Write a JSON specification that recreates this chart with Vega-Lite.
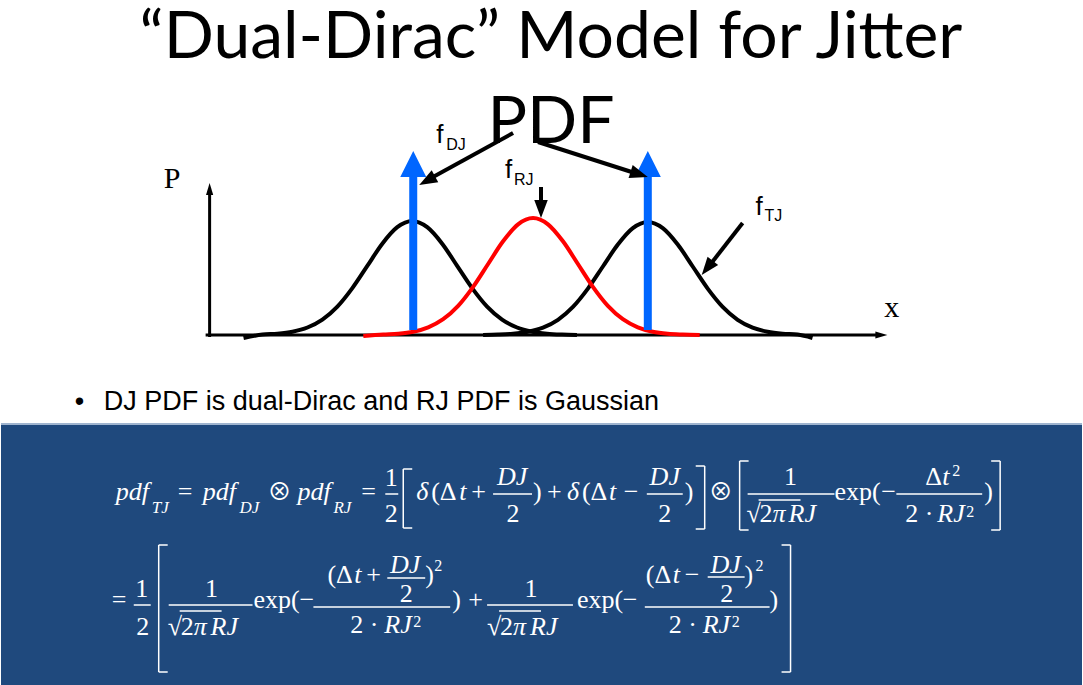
{
  "$schema": "https://vega.github.io/schema/vega-lite/v6.json",
  "width": 1083,
  "height": 685,
  "autosize": {"type": "fit", "contains": "padding"},
  "padding": 0,
  "background": "white",
  "config": {"view": {"stroke": null}},
  "datasets": {
    "box": [{"x": 0, "x2": 1083, "y": 425, "y2": 685}],
    "segs": [
      {"x": 0, "y": 424, "x2": 1083, "y2": 424, "g": "edge"},
      {"x": 209, "y": 337, "x2": 209, "y2": 193, "g": "axis"},
      {"x": 205, "y": 335, "x2": 877, "y2": 335, "g": "axis"},
      {"x": 413, "y": 330, "x2": 413, "y2": 176, "g": "blue"},
      {"x": 648, "y": 330, "x2": 648, "y2": 176, "g": "blue"},
      {"x": 513, "y": 133, "x2": 431, "y2": 178, "g": "ptr"},
      {"x": 538, "y": 142, "x2": 635, "y2": 173, "g": "ptr"},
      {"x": 541, "y": 187, "x2": 541, "y2": 206, "g": "ptr"},
      {"x": 743, "y": 223, "x2": 711, "y2": 264, "g": "ptr"},
      {"x": 385, "y": 494, "x2": 398, "y2": 494, "g": "math"},
      {"x": 493, "y": 494, "x2": 532, "y2": 494, "g": "math"},
      {"x": 647, "y": 494, "x2": 683, "y2": 494, "g": "math"},
      {"x": 748, "y": 494, "x2": 835, "y2": 494, "g": "math"},
      {"x": 897, "y": 494, "x2": 983, "y2": 494, "g": "math"},
      {"x": 759, "y": 500, "x2": 801, "y2": 500, "g": "math"},
      {"x": 403, "y": 469, "x2": 403, "y2": 528, "g": "math"},
      {"x": 403, "y": 469, "x2": 412, "y2": 469, "g": "math"},
      {"x": 403, "y": 528, "x2": 412, "y2": 528, "g": "math"},
      {"x": 705, "y": 466, "x2": 705, "y2": 529, "g": "math"},
      {"x": 696, "y": 466, "x2": 705, "y2": 466, "g": "math"},
      {"x": 696, "y": 529, "x2": 705, "y2": 529, "g": "math"},
      {"x": 740, "y": 461, "x2": 740, "y2": 530, "g": "math"},
      {"x": 740, "y": 461, "x2": 749, "y2": 461, "g": "math"},
      {"x": 740, "y": 530, "x2": 749, "y2": 530, "g": "math"},
      {"x": 1001, "y": 461, "x2": 1001, "y2": 530, "g": "math"},
      {"x": 992, "y": 461, "x2": 1001, "y2": 461, "g": "math"},
      {"x": 992, "y": 530, "x2": 1001, "y2": 530, "g": "math"},
      {"x": 133, "y": 605, "x2": 150, "y2": 605, "g": "math"},
      {"x": 168, "y": 605, "x2": 252, "y2": 605, "g": "math"},
      {"x": 313, "y": 607, "x2": 450, "y2": 607, "g": "math"},
      {"x": 387, "y": 578, "x2": 425, "y2": 578, "g": "math"},
      {"x": 487, "y": 605, "x2": 573, "y2": 605, "g": "math"},
      {"x": 645, "y": 607, "x2": 770, "y2": 607, "g": "math"},
      {"x": 708, "y": 577, "x2": 745, "y2": 577, "g": "math"},
      {"x": 179, "y": 611, "x2": 221, "y2": 611, "g": "math"},
      {"x": 499, "y": 611, "x2": 541, "y2": 611, "g": "math"},
      {"x": 158, "y": 545, "x2": 158, "y2": 672, "g": "math"},
      {"x": 158, "y": 545, "x2": 167, "y2": 545, "g": "math"},
      {"x": 158, "y": 672, "x2": 167, "y2": 672, "g": "math"},
      {"x": 791, "y": 545, "x2": 791, "y2": 672, "g": "math"},
      {"x": 782, "y": 545, "x2": 791, "y2": 545, "g": "math"},
      {"x": 782, "y": 672, "x2": 791, "y2": 672, "g": "math"}
    ],
    "heads": [
      {"x": 209, "y": 183, "dir": 0, "k": "axis"},
      {"x": 888, "y": 335, "dir": 90, "k": "axis"},
      {"x": 413, "y": 151, "dir": 0, "k": "blue"},
      {"x": 648, "y": 151, "dir": 0, "k": "blue"},
      {"x": 419, "y": 185, "dir": 241, "k": "ptr"},
      {"x": 648, "y": 177, "dir": 107.6, "k": "ptr"},
      {"x": 541, "y": 218, "dir": 180, "k": "ptr"},
      {"x": 702, "y": 275, "dir": 218.3, "k": "ptr"}
    ],
    "curves": [
      {"x": 243, "y": 338, "c": "tj1"}, {"x": 262, "y": 334.6, "c": "tj1"}, {"x": 277, "y": 333.7, "c": "tj1"},
      {"x": 292, "y": 331.7, "c": "tj1"}, {"x": 307, "y": 327.5, "c": "tj1"}, {"x": 322, "y": 319.6, "c": "tj1"},
      {"x": 337, "y": 306.6, "c": "tj1"}, {"x": 352, "y": 288.1, "c": "tj1"}, {"x": 367, "y": 265.9, "c": "tj1"},
      {"x": 382, "y": 243.7, "c": "tj1"}, {"x": 397, "y": 227.2, "c": "tj1"}, {"x": 412, "y": 221, "c": "tj1"},
      {"x": 427, "y": 227.2, "c": "tj1"}, {"x": 442, "y": 243.7, "c": "tj1"}, {"x": 457, "y": 265.9, "c": "tj1"},
      {"x": 472, "y": 288.1, "c": "tj1"}, {"x": 487, "y": 306.6, "c": "tj1"}, {"x": 502, "y": 319.6, "c": "tj1"},
      {"x": 517, "y": 327.5, "c": "tj1"}, {"x": 532, "y": 331.7, "c": "tj1"}, {"x": 547, "y": 333.7, "c": "tj1"},
      {"x": 562, "y": 334.6, "c": "tj1"}, {"x": 577, "y": 335, "c": "tj1"},
      {"x": 483, "y": 335, "c": "tj2"}, {"x": 498, "y": 334.6, "c": "tj2"}, {"x": 513, "y": 333.7, "c": "tj2"},
      {"x": 528, "y": 331.7, "c": "tj2"}, {"x": 543, "y": 327.6, "c": "tj2"}, {"x": 558, "y": 319.8, "c": "tj2"},
      {"x": 573, "y": 306.9, "c": "tj2"}, {"x": 588, "y": 288.6, "c": "tj2"}, {"x": 603, "y": 266.5, "c": "tj2"},
      {"x": 618, "y": 244.5, "c": "tj2"}, {"x": 633, "y": 228.1, "c": "tj2"}, {"x": 648, "y": 222, "c": "tj2"},
      {"x": 663, "y": 228.1, "c": "tj2"}, {"x": 678, "y": 244.5, "c": "tj2"}, {"x": 693, "y": 266.5, "c": "tj2"},
      {"x": 708, "y": 288.6, "c": "tj2"}, {"x": 723, "y": 306.9, "c": "tj2"}, {"x": 738, "y": 319.8, "c": "tj2"},
      {"x": 753, "y": 327.6, "c": "tj2"}, {"x": 768, "y": 331.7, "c": "tj2"}, {"x": 783, "y": 333.7, "c": "tj2"},
      {"x": 798, "y": 334.6, "c": "tj2"}, {"x": 813, "y": 338, "c": "tj2"},
      {"x": 363, "y": 336, "c": "rj"}, {"x": 383, "y": 334.5, "c": "rj"}, {"x": 398, "y": 333.7, "c": "rj"},
      {"x": 413, "y": 331.7, "c": "rj"}, {"x": 428, "y": 327.3, "c": "rj"}, {"x": 443, "y": 319.2, "c": "rj"},
      {"x": 458, "y": 305.9, "c": "rj"}, {"x": 473, "y": 286.9, "c": "rj"}, {"x": 488, "y": 264, "c": "rj"},
      {"x": 503, "y": 241.3, "c": "rj"}, {"x": 518, "y": 224.3, "c": "rj"}, {"x": 533, "y": 218, "c": "rj"},
      {"x": 548, "y": 224.3, "c": "rj"}, {"x": 563, "y": 241.3, "c": "rj"}, {"x": 578, "y": 264, "c": "rj"},
      {"x": 593, "y": 286.9, "c": "rj"}, {"x": 608, "y": 305.9, "c": "rj"}, {"x": 623, "y": 319.2, "c": "rj"},
      {"x": 638, "y": 327.3, "c": "rj"}, {"x": 653, "y": 331.7, "c": "rj"}, {"x": 668, "y": 333.7, "c": "rj"},
      {"x": 683, "y": 334.5, "c": "rj"}, {"x": 700, "y": 335, "c": "rj"}
    ],
    "labels": [
      {"x": 551, "y": 58, "t": "“Dual-Dirac” Model for Jitter", "r": "title"},
      {"x": 551, "y": 143, "t": "PDF", "r": "title"},
      {"x": 74, "y": 410, "t": "•", "r": "bul"},
      {"x": 103, "y": 410, "t": "DJ PDF is dual-Dirac and RJ PDF is Gaussian", "r": "bul"},
      {"x": 163, "y": 188, "t": "P", "r": "ax"},
      {"x": 885, "y": 317, "t": "x", "r": "ax"},
      {"x": 436, "y": 143, "t": "f", "r": "lf"},
      {"x": 446, "y": 150, "t": "DJ", "r": "ls"},
      {"x": 505, "y": 178, "t": "f", "r": "lf"},
      {"x": 514, "y": 185, "t": "RJ", "r": "ls"},
      {"x": 756, "y": 215, "t": "f", "r": "lf"},
      {"x": 765, "y": 221, "t": "TJ", "r": "ls"},

      {"x": 115, "y": 500, "t": "pdf", "r": "mi"},
      {"x": 151, "y": 513, "t": "TJ", "r": "si"},
      {"x": 177, "y": 500, "t": "=", "r": "mr"},
      {"x": 202, "y": 500, "t": "pdf", "r": "mi"},
      {"x": 239, "y": 513, "t": "DJ", "r": "si"},
      {"x": 267, "y": 500, "t": "⊗", "r": "op"},
      {"x": 297, "y": 500, "t": "pdf", "r": "mi"},
      {"x": 333, "y": 513, "t": "RJ", "r": "si"},
      {"x": 361, "y": 500, "t": "=", "r": "mr"},
      {"x": 391, "y": 486, "t": "1", "r": "mrc"},
      {"x": 391, "y": 522, "t": "2", "r": "mrc"},
      {"x": 416, "y": 500, "t": "δ", "r": "mi"},
      {"x": 431, "y": 500, "t": "(Δ", "r": "mr"},
      {"x": 459, "y": 500, "t": "t", "r": "mi"},
      {"x": 471, "y": 500, "t": "+", "r": "mr"},
      {"x": 512, "y": 485, "t": "DJ", "r": "mic"},
      {"x": 513, "y": 522, "t": "2", "r": "mrc"},
      {"x": 533, "y": 500, "t": ")", "r": "mr"},
      {"x": 547, "y": 500, "t": "+", "r": "mr"},
      {"x": 567, "y": 500, "t": "δ", "r": "mi"},
      {"x": 582, "y": 500, "t": "(Δ", "r": "mr"},
      {"x": 609, "y": 500, "t": "t", "r": "mi"},
      {"x": 624, "y": 500, "t": "−", "r": "mr"},
      {"x": 665, "y": 485, "t": "DJ", "r": "mic"},
      {"x": 665, "y": 522, "t": "2", "r": "mrc"},
      {"x": 685, "y": 500, "t": ")", "r": "mr"},
      {"x": 709, "y": 500, "t": "⊗", "r": "op"},
      {"x": 791, "y": 485, "t": "1", "r": "mrc"},
      {"x": 747, "y": 522, "t": "√", "r": "mr"},
      {"x": 760, "y": 522, "t": "2", "r": "mr"},
      {"x": 773, "y": 522, "t": "π", "r": "mi"},
      {"x": 789, "y": 522, "t": "RJ", "r": "mi"},
      {"x": 835, "y": 500, "t": "exp(", "r": "mr"},
      {"x": 882, "y": 500, "t": "−", "r": "mr"},
      {"x": 926, "y": 485, "t": "Δ", "r": "mr"},
      {"x": 943, "y": 485, "t": "t", "r": "mi"},
      {"x": 953, "y": 476, "t": "2", "r": "sr"},
      {"x": 906, "y": 522, "t": "2 ·", "r": "mr"},
      {"x": 938, "y": 522, "t": "RJ", "r": "mi"},
      {"x": 967, "y": 517, "t": "2", "r": "sr"},
      {"x": 985, "y": 500, "t": ")", "r": "mr"},

      {"x": 111, "y": 608, "t": "=", "r": "mr"},
      {"x": 141, "y": 597, "t": "1", "r": "mrc"},
      {"x": 142, "y": 635, "t": "2", "r": "mrc"},
      {"x": 211, "y": 597, "t": "1", "r": "mrc"},
      {"x": 167, "y": 635, "t": "√", "r": "mr"},
      {"x": 180, "y": 635, "t": "2", "r": "mr"},
      {"x": 193, "y": 635, "t": "π", "r": "mi"},
      {"x": 210, "y": 635, "t": "RJ", "r": "mi"},
      {"x": 253, "y": 608, "t": "exp(", "r": "mr"},
      {"x": 299, "y": 608, "t": "−", "r": "mr"},
      {"x": 327, "y": 583, "t": "(Δ", "r": "mr"},
      {"x": 354, "y": 583, "t": "t", "r": "mi"},
      {"x": 366, "y": 583, "t": "+", "r": "mr"},
      {"x": 405, "y": 573, "t": "DJ", "r": "mic"},
      {"x": 406, "y": 602, "t": "2", "r": "mrc"},
      {"x": 425, "y": 583, "t": ")", "r": "mr"},
      {"x": 434, "y": 571, "t": "2", "r": "sr"},
      {"x": 350, "y": 633, "t": "2 ·", "r": "mr"},
      {"x": 384, "y": 633, "t": "RJ", "r": "mi"},
      {"x": 413, "y": 627, "t": "2", "r": "sr"},
      {"x": 452, "y": 608, "t": ")", "r": "mr"},
      {"x": 468, "y": 608, "t": "+", "r": "mr"},
      {"x": 531, "y": 597, "t": "1", "r": "mrc"},
      {"x": 487, "y": 635, "t": "√", "r": "mr"},
      {"x": 500, "y": 635, "t": "2", "r": "mr"},
      {"x": 513, "y": 635, "t": "π", "r": "mi"},
      {"x": 530, "y": 635, "t": "RJ", "r": "mi"},
      {"x": 577, "y": 608, "t": "exp(", "r": "mr"},
      {"x": 623, "y": 608, "t": "−", "r": "mr"},
      {"x": 646, "y": 583, "t": "(Δ", "r": "mr"},
      {"x": 673, "y": 583, "t": "t", "r": "mi"},
      {"x": 685, "y": 583, "t": "−", "r": "mr"},
      {"x": 726, "y": 573, "t": "DJ", "r": "mic"},
      {"x": 727, "y": 602, "t": "2", "r": "mrc"},
      {"x": 745, "y": 583, "t": ")", "r": "mr"},
      {"x": 756, "y": 571, "t": "2", "r": "sr"},
      {"x": 669, "y": 633, "t": "2 ·", "r": "mr"},
      {"x": 703, "y": 633, "t": "RJ", "r": "mi"},
      {"x": 732, "y": 627, "t": "2", "r": "sr"},
      {"x": 770, "y": 608, "t": ")", "r": "mr"}
    ]
  },
  "encoding": {
    "x": {"field": "x", "type": "quantitative", "scale": {"domain": [0, 1083], "nice": false, "zero": false}, "axis": null},
    "y": {"field": "y", "type": "quantitative", "scale": {"domain": [0, 685], "nice": false, "zero": false, "reverse": true}, "axis": null}
  },
  "layer": [
    {
      "data": {"name": "box"},
      "mark": {"type": "rect", "color": "#1F497D"},
      "encoding": {"x2": {"field": "x2"}, "y2": {"field": "y2"}}
    },
    {
      "data": {"name": "segs"},
      "transform": [{"filter": "datum.g === 'edge'"}],
      "mark": {"type": "rule", "color": "#9FB4CF", "strokeWidth": 2},
      "encoding": {"x2": {"field": "x2"}, "y2": {"field": "y2"}}
    },
    {
      "data": {"name": "segs"},
      "transform": [{"filter": "datum.g === 'axis'"}],
      "mark": {"type": "rule", "color": "black", "strokeWidth": 3},
      "encoding": {"x2": {"field": "x2"}, "y2": {"field": "y2"}}
    },
    {
      "data": {"name": "heads"},
      "transform": [{"filter": "datum.k === 'axis'"}],
      "mark": {"type": "point", "shape": "M0,0L0.6,2L-0.6,2Z", "size": 144, "filled": true, "color": "black", "opacity": 1},
      "encoding": {"angle": {"field": "dir", "type": "quantitative", "scale": {"domain": [0, 360], "range": [0, 360]}}}
    },
    {
      "data": {"name": "curves"},
      "transform": [{"filter": "datum.c !== 'rj'"}],
      "mark": {"type": "line", "color": "black", "strokeWidth": 4, "interpolate": "monotone"},
      "encoding": {"detail": {"field": "c"}}
    },
    {
      "data": {"name": "curves"},
      "transform": [{"filter": "datum.c === 'rj'"}],
      "mark": {"type": "line", "color": "#FF0000", "strokeWidth": 4, "interpolate": "monotone"},
      "encoding": {}
    },
    {
      "data": {"name": "segs"},
      "transform": [{"filter": "datum.g === 'blue'"}],
      "mark": {"type": "rule", "color": "#0066FF", "strokeWidth": 8},
      "encoding": {"x2": {"field": "x2"}, "y2": {"field": "y2"}}
    },
    {
      "data": {"name": "heads"},
      "transform": [{"filter": "datum.k === 'blue'"}],
      "mark": {"type": "point", "shape": "M0,0L1,2L-1,2Z", "size": 676, "filled": true, "color": "#0066FF", "opacity": 1}
    },
    {
      "data": {"name": "segs"},
      "transform": [{"filter": "datum.g === 'ptr'"}],
      "mark": {"type": "rule", "color": "black", "strokeWidth": 4},
      "encoding": {"x2": {"field": "x2"}, "y2": {"field": "y2"}}
    },
    {
      "data": {"name": "heads"},
      "transform": [{"filter": "datum.k === 'ptr'"}],
      "mark": {"type": "point", "shape": "M0,0L0.75,2L-0.75,2Z", "size": 324, "filled": true, "color": "black", "opacity": 1},
      "encoding": {"angle": {"field": "dir", "type": "quantitative", "scale": {"domain": [0, 360], "range": [0, 360]}}}
    },
    {
      "data": {"name": "segs"},
      "transform": [{"filter": "datum.g === 'math'"}],
      "mark": {"type": "rule", "color": "white", "strokeWidth": 1.5},
      "encoding": {"x2": {"field": "x2"}, "y2": {"field": "y2"}}
    },
    {
      "data": {"name": "labels"},
      "transform": [{"filter": "datum.r === 'title'"}],
      "mark": {"type": "text", "font": "Lato", "fontSize": 66, "align": "center", "baseline": "alphabetic", "color": "black"},
      "encoding": {"text": {"field": "t"}}
    },
    {
      "data": {"name": "labels"},
      "transform": [{"filter": "datum.r === 'bul'"}],
      "mark": {"type": "text", "font": "Liberation Sans", "fontSize": 27, "align": "left", "baseline": "alphabetic", "color": "black"},
      "encoding": {"text": {"field": "t"}}
    },
    {
      "data": {"name": "labels"},
      "transform": [{"filter": "datum.r === 'ax'"}],
      "mark": {"type": "text", "font": "Liberation Serif", "fontSize": 30, "align": "left", "baseline": "alphabetic", "color": "black"},
      "encoding": {"text": {"field": "t"}}
    },
    {
      "data": {"name": "labels"},
      "transform": [{"filter": "datum.r === 'lf'"}],
      "mark": {"type": "text", "font": "Liberation Sans", "fontSize": 26, "align": "left", "baseline": "alphabetic", "color": "black"},
      "encoding": {"text": {"field": "t"}}
    },
    {
      "data": {"name": "labels"},
      "transform": [{"filter": "datum.r === 'ls'"}],
      "mark": {"type": "text", "font": "Liberation Sans", "fontSize": 16, "align": "left", "baseline": "alphabetic", "color": "black"},
      "encoding": {"text": {"field": "t"}}
    },
    {
      "data": {"name": "labels"},
      "transform": [{"filter": "datum.r === 'mi'"}],
      "mark": {"type": "text", "font": "Liberation Serif", "fontSize": 26, "fontStyle": "italic", "align": "left", "baseline": "alphabetic", "color": "white"},
      "encoding": {"text": {"field": "t"}}
    },
    {
      "data": {"name": "labels"},
      "transform": [{"filter": "datum.r === 'mr'"}],
      "mark": {"type": "text", "font": "Liberation Serif", "fontSize": 26, "align": "left", "baseline": "alphabetic", "color": "white"},
      "encoding": {"text": {"field": "t"}}
    },
    {
      "data": {"name": "labels"},
      "transform": [{"filter": "datum.r === 'op'"}],
      "mark": {"type": "text", "font": "Noto Sans CJK JP", "fontSize": 24, "align": "left", "baseline": "alphabetic", "color": "white"},
      "encoding": {"text": {"field": "t"}}
    },
    {
      "data": {"name": "labels"},
      "transform": [{"filter": "datum.r === 'mic'"}],
      "mark": {"type": "text", "font": "Liberation Serif", "fontSize": 26, "fontStyle": "italic", "align": "center", "baseline": "alphabetic", "color": "white"},
      "encoding": {"text": {"field": "t"}}
    },
    {
      "data": {"name": "labels"},
      "transform": [{"filter": "datum.r === 'mrc'"}],
      "mark": {"type": "text", "font": "Liberation Serif", "fontSize": 26, "align": "center", "baseline": "alphabetic", "color": "white"},
      "encoding": {"text": {"field": "t"}}
    },
    {
      "data": {"name": "labels"},
      "transform": [{"filter": "datum.r === 'si'"}],
      "mark": {"type": "text", "font": "Liberation Serif", "fontSize": 17, "fontStyle": "italic", "align": "left", "baseline": "alphabetic", "color": "white"},
      "encoding": {"text": {"field": "t"}}
    },
    {
      "data": {"name": "labels"},
      "transform": [{"filter": "datum.r === 'sr'"}],
      "mark": {"type": "text", "font": "Liberation Serif", "fontSize": 16, "align": "left", "baseline": "alphabetic", "color": "white"},
      "encoding": {"text": {"field": "t"}}
    }
  ]
}
